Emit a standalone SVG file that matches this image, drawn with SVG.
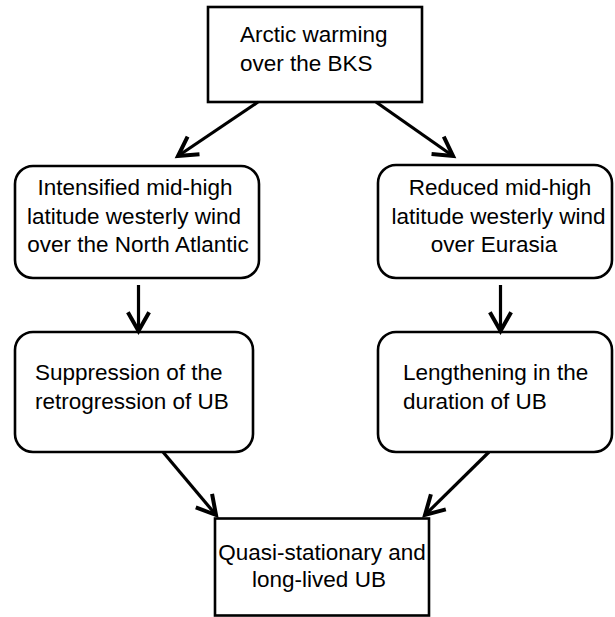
<svg xmlns="http://www.w3.org/2000/svg" width="615" height="617" viewBox="0 0 615 617">
<defs>
<marker id="arr" markerUnits="userSpaceOnUse" markerWidth="30" markerHeight="30" viewBox="-20 -12 24 24" refX="0" refY="0" orient="auto">
<path d="M-15,-8.5 L0,0 L-15,8.5" fill="none" stroke="#000" stroke-width="3.2" stroke-linejoin="miter"/>
</marker>
<style>
.box{fill:#fff;stroke:#000;stroke-width:2.6}
.t{font-family:"Liberation Sans",Arial,sans-serif;font-size:22.5px;fill:#000}
.c{text-anchor:middle}
.conn line{stroke:#000;stroke-width:3.2;marker-end:url(#arr)}
</style>
</defs>
<rect width="615" height="617" fill="#fff"/>
<g id="n-arctic">
<rect class="box" x="208" y="7" width="214" height="95"/>
<text class="t" x="240" y="42">Arctic warming</text>
<text class="t" x="240" y="71">over the BKS</text>
</g>
<g id="n-intensified">
<rect class="box" x="15" y="166" width="244" height="112" rx="18"/>
<text class="t c" x="135" y="195">Intensified mid-high</text>
<text class="t c" x="134" y="223.5">latitude westerly wind</text>
<text class="t c" x="138" y="252">over the North Atlantic</text>
</g>
<g id="n-reduced">
<rect class="box" x="378" y="165" width="234" height="113" rx="18"/>
<text class="t c" x="500" y="195">Reduced mid-high</text>
<text class="t c" x="498.5" y="223.5">latitude westerly wind</text>
<text class="t c" x="494" y="252">over Eurasia</text>
</g>
<g id="n-suppression">
<rect class="box" x="15" y="332" width="238" height="120" rx="18"/>
<text class="t" x="35" y="380">Suppression of the</text>
<text class="t" x="35" y="408.5">retrogression of UB</text>
</g>
<g id="n-lengthening">
<rect class="box" x="378" y="332" width="234" height="120" rx="18"/>
<text class="t" x="403" y="380">Lengthening in the</text>
<text class="t" x="403" y="408.5">duration of UB</text>
</g>
<g id="n-quasi">
<rect class="box" x="215" y="518.5" width="214" height="97"/>
<text class="t c" x="322" y="560">Quasi-stationary and</text>
<text class="t c" x="319" y="587">long-lived UB</text>
</g>
<g id="connectors" class="conn">
<line x1="258" y1="102" x2="178" y2="156"/>
<line x1="376" y1="102" x2="453" y2="156"/>
<line x1="138.5" y1="285" x2="138.5" y2="331"/>
<line x1="500.5" y1="285" x2="500.5" y2="331"/>
<line x1="163" y1="452" x2="216" y2="515"/>
<line x1="489" y1="452" x2="425" y2="515"/>
</g>
</svg>
